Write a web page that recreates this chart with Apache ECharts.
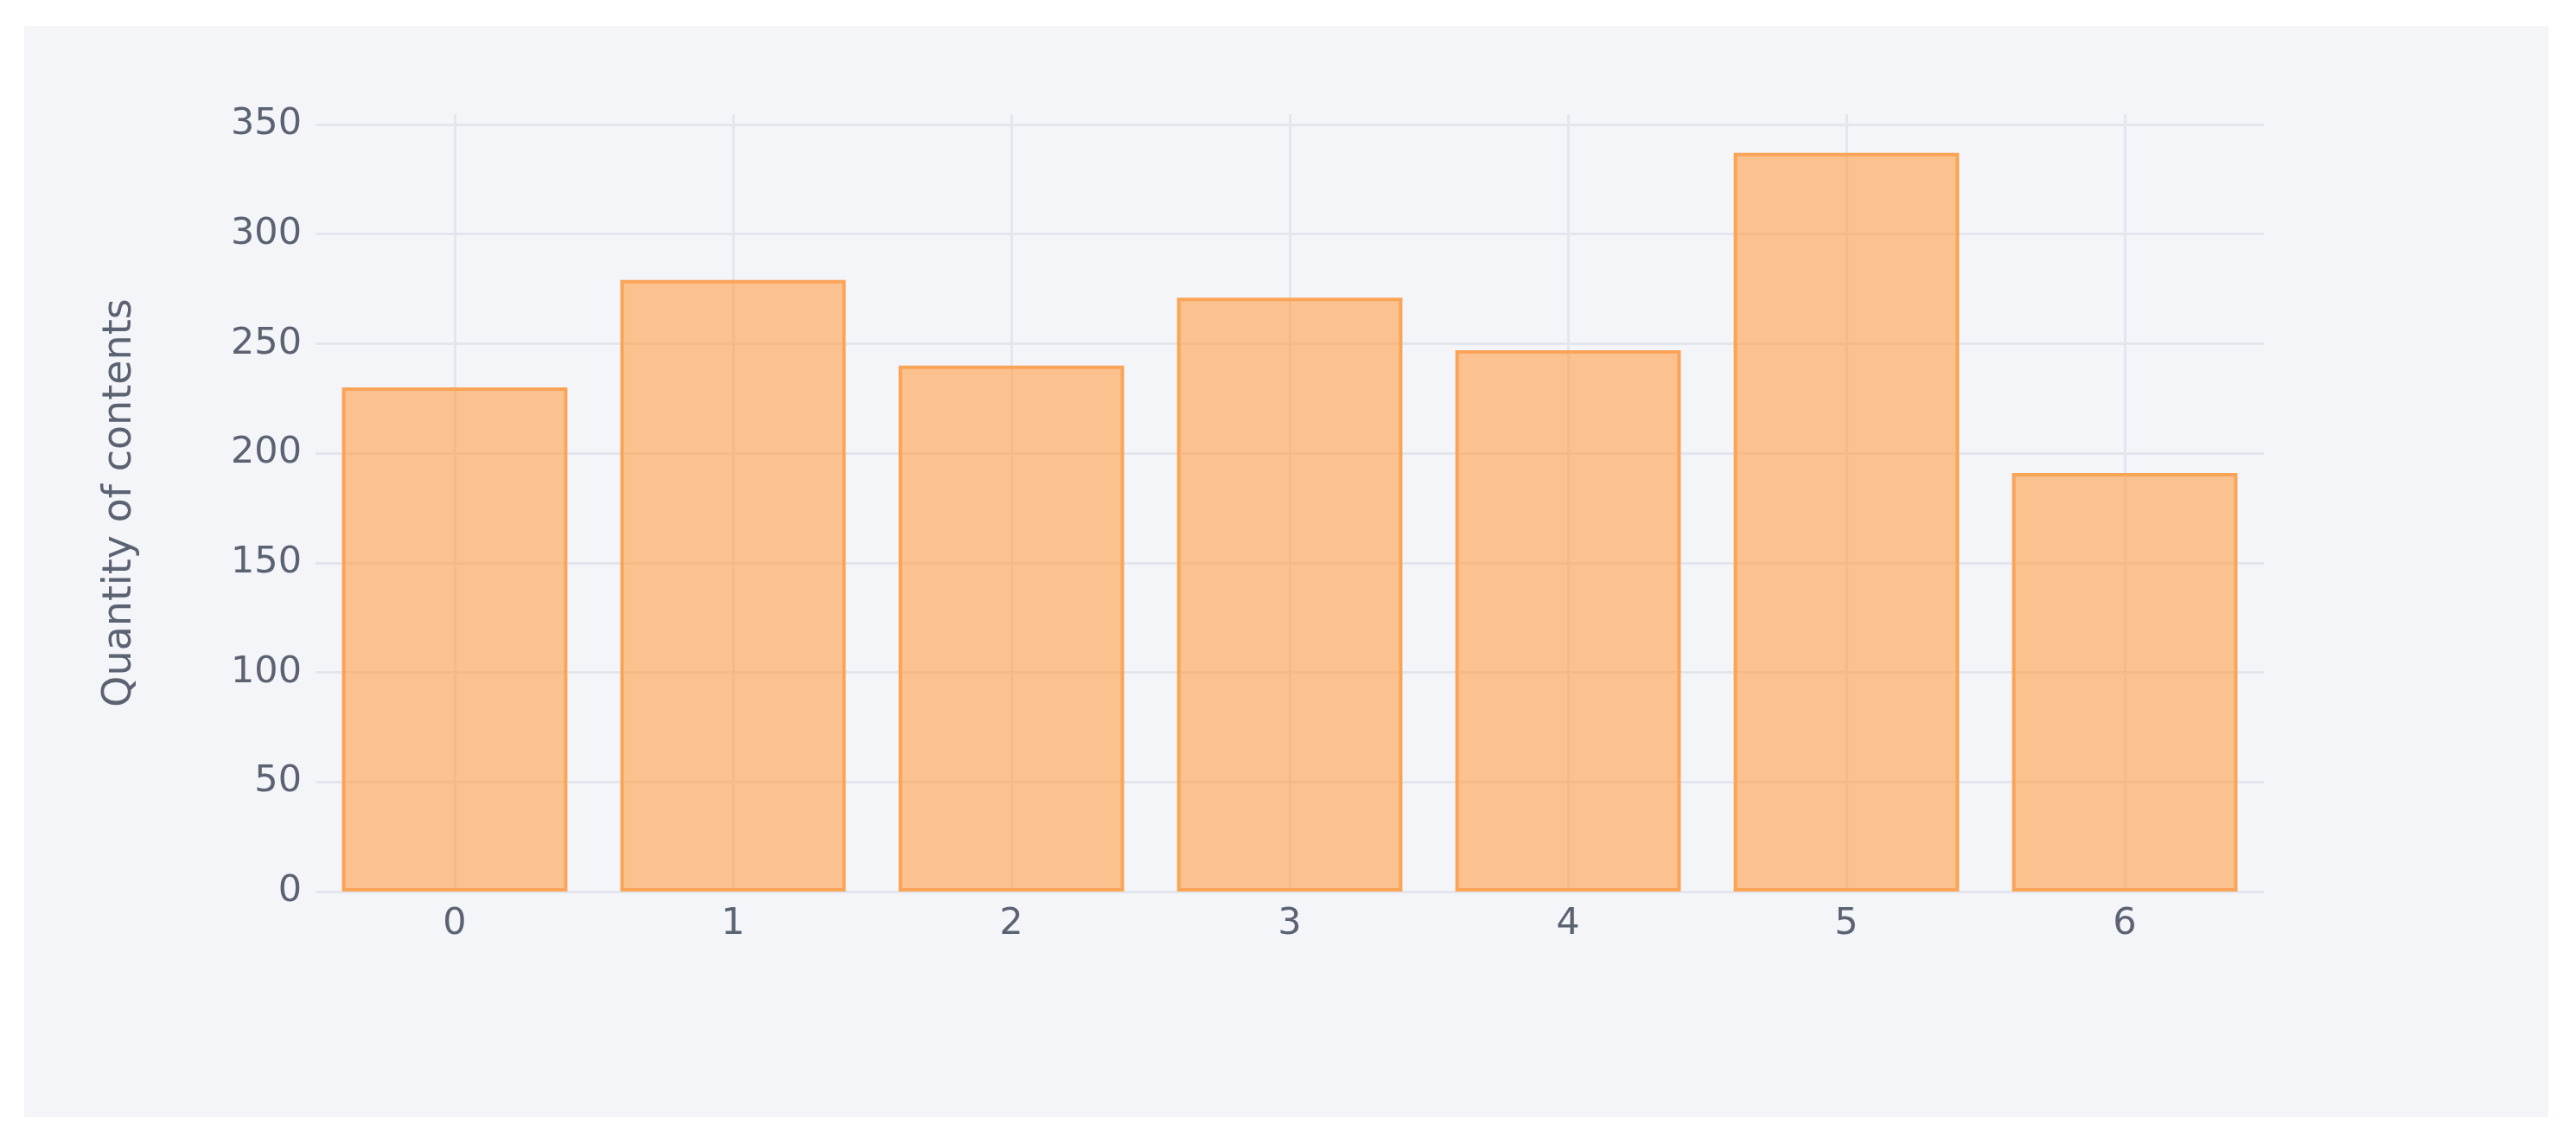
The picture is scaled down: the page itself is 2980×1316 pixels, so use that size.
<!DOCTYPE html>
<html>
<head>
<meta charset="utf-8">
<script src="https://cdn.jsdelivr.net/npm/echarts@6/dist/echarts.min.js"></script>
<style>
  html, body { margin: 0; padding: 0; background: #ffffff; width: 2980px; height: 1316px; overflow: hidden; }
  #chart { position: absolute; left: 28px; top: 30px; width: 2920px; height: 1262px; background: #F4F5F9; }
</style>
</head>
<body>
<div id="chart"></div>
<script>
const categories = ['0', '1', '2', '3', '4', '5', '6'];
const contentCounts = [230, 279, 240, 271, 247, 337, 191];
const yTickStep = 50;
const yAxisTitle = 'Quantity of contents';

const chart = echarts.init(document.getElementById('chart'), null, { renderer: 'canvas' });
const textColor = '#5b6272';
const gridColor = '#E3E6ED';

chart.setOption({
  backgroundColor: 'transparent',
  animation: false,
  grid: { left: 337, right: 329, top: 102, bottom: 261, containLabel: false },
  xAxis: {
    type: 'category',
    data: categories,
    axisLine: { show: false },
    axisTick: { show: false },
    axisLabel: { color: textColor, fontFamily: 'DejaVu Sans', fontSize: 43, margin: 16 },
    splitLine: { show: true, alignWithLabel: true, lineStyle: { color: gridColor, width: 3 } }
  },
  yAxis: {
    type: 'value',
    min: 0,
    max: 354.7,
    interval: yTickStep,
    name: yAxisTitle,
    nameLocation: 'middle',
    nameGap: 203,
    nameRotate: 90,
    nameTextStyle: { color: textColor, fontFamily: 'DejaVu Sans', fontSize: 46 },
    axisLine: { show: false },
    axisTick: { show: false },
    axisLabel: { color: textColor, fontFamily: 'DejaVu Sans', fontSize: 43, margin: 16, showMaxLabel: false },
    splitLine: { show: true, showMaxLine: false, lineStyle: { color: gridColor, width: 3 } }
  },
  series: [{
    type: 'bar',
    data: contentCounts,
    barCategoryGap: '19%',
    itemStyle: {
      color: 'rgba(255,158,70,0.6)',
      borderColor: '#FAA458',
      borderWidth: 4
    }
  }]
});
</script>
</body>
</html>
